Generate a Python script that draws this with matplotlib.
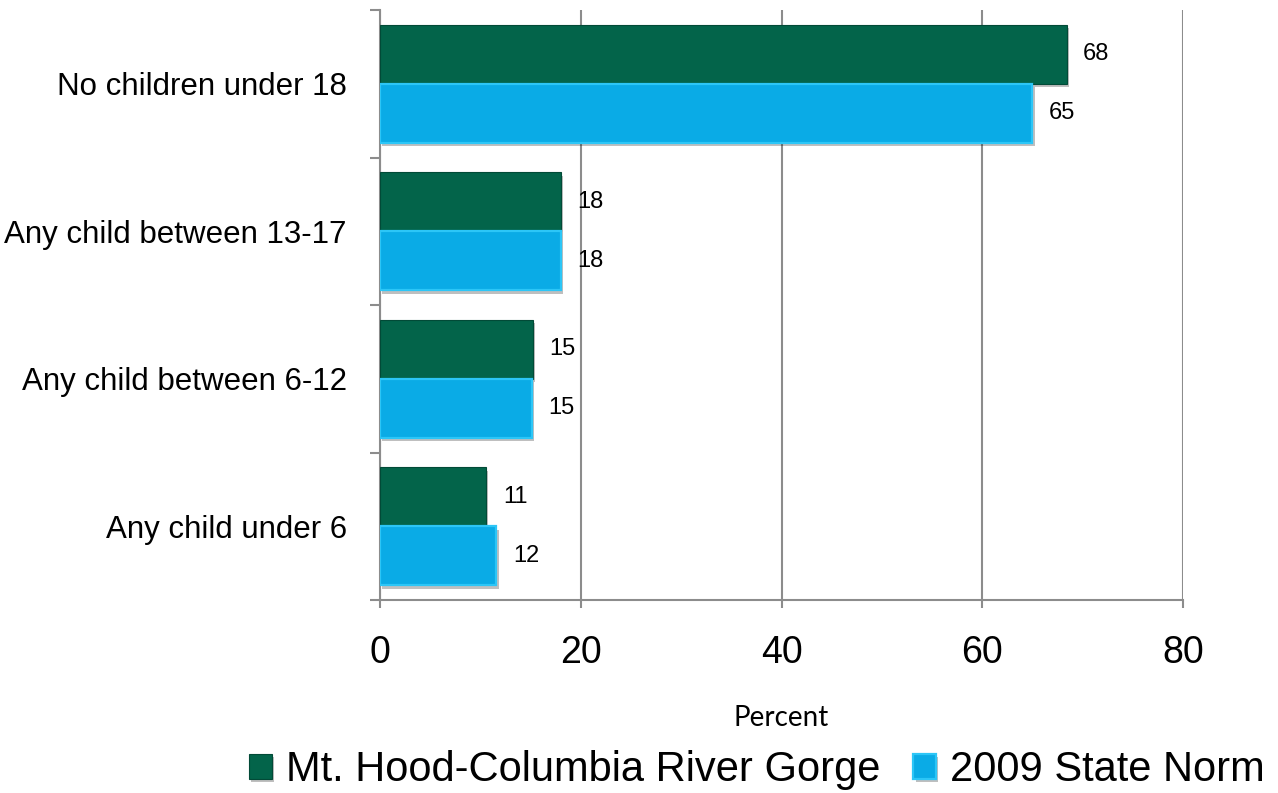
import numpy as np
import matplotlib
matplotlib.use('Agg')
import matplotlib.pyplot as plt
import matplotlib.patheffects as pe

# categories listed top to bottom
cats = ['No children under 18', 'Any child between 13-17',
        'Any child between 6-12', 'Any child under 6']
mthood = [68.4, 18.0, 15.2, 10.6]
state = [65.0, 18.0, 15.1, 11.6]
series_names = ['Mt. Hood-Columbia River Gorge', '2009 State Norm']
xticks = [0, 20, 40, 60, 80]

green = '#03644A'
blue = '#0AABE6'
gray = '#8C8C8C'

fig = plt.figure(figsize=(12.78, 7.93), dpi=100)
ax = fig.add_axes([380/1278, 1-600/793, 803/1278, 590/793])

y = np.arange(len(cats))[::-1].astype(float)
h = 0.40
shadow = [pe.SimplePatchShadow(offset=(1.5, -2.5), alpha=0.25, shadow_rgbFace='k'), pe.Normal()]

b1 = ax.barh(y + h/2, mthood, height=h, color=green, edgecolor='#024A37', linewidth=0.8,
             label=series_names[0], zorder=3)
b2 = ax.barh(y - h/2, state, height=h, color=blue, edgecolor='#2CC6F7', linewidth=1.6,
             label=series_names[1], zorder=3)
for bars in (b1, b2):
    for p in bars:
        p.set_path_effects(shadow)
    ax.bar_label(bars, fmt='%.0f', padding=12, fontsize=17, family='Liberation Sans', zorder=4)

ax.set_xlim(0, 80)
ax.set_ylim(-0.5, len(cats) - 0.5)
ax.set_xticks(xticks)
ax.set_xticklabels([str(v) for v in xticks], fontsize=27, family='Liberation Sans')
ax.set_yticks(y)
ax.set_yticklabels(cats, fontsize=22.5, family='Liberation Sans')
ax.set_yticks(np.arange(-0.5, len(cats), 1.0), minor=True)
ax.tick_params(axis='y', which='major', length=0, pad=24)
ax.tick_params(axis='y', which='minor', length=7, width=1.5, color=gray)
ax.tick_params(axis='x', length=6, width=1.5, color=gray, pad=19)

ax.grid(axis='x', color=gray, linewidth=1.5, zorder=0)
ax.set_axisbelow(True)
for s in ['top', 'right']:
    ax.spines[s].set_visible(False)
for s in ['left', 'bottom']:
    ax.spines[s].set_color(gray)
    ax.spines[s].set_linewidth(1.5)

ax.set_xlabel('Percent', fontsize=20, family='Lato', labelpad=25)

fig.legend(handles=[b1, b2], loc='center', bbox_to_anchor=(757/1278, 1-770/793), ncol=2,
           frameon=False, prop={'family': 'Liberation Sans', 'size': 30},
           handlelength=0.55, handleheight=0.55, handletextpad=0.33, columnspacing=0.8,
           borderpad=0, borderaxespad=0)

fig.savefig('out.png', dpi=100)
